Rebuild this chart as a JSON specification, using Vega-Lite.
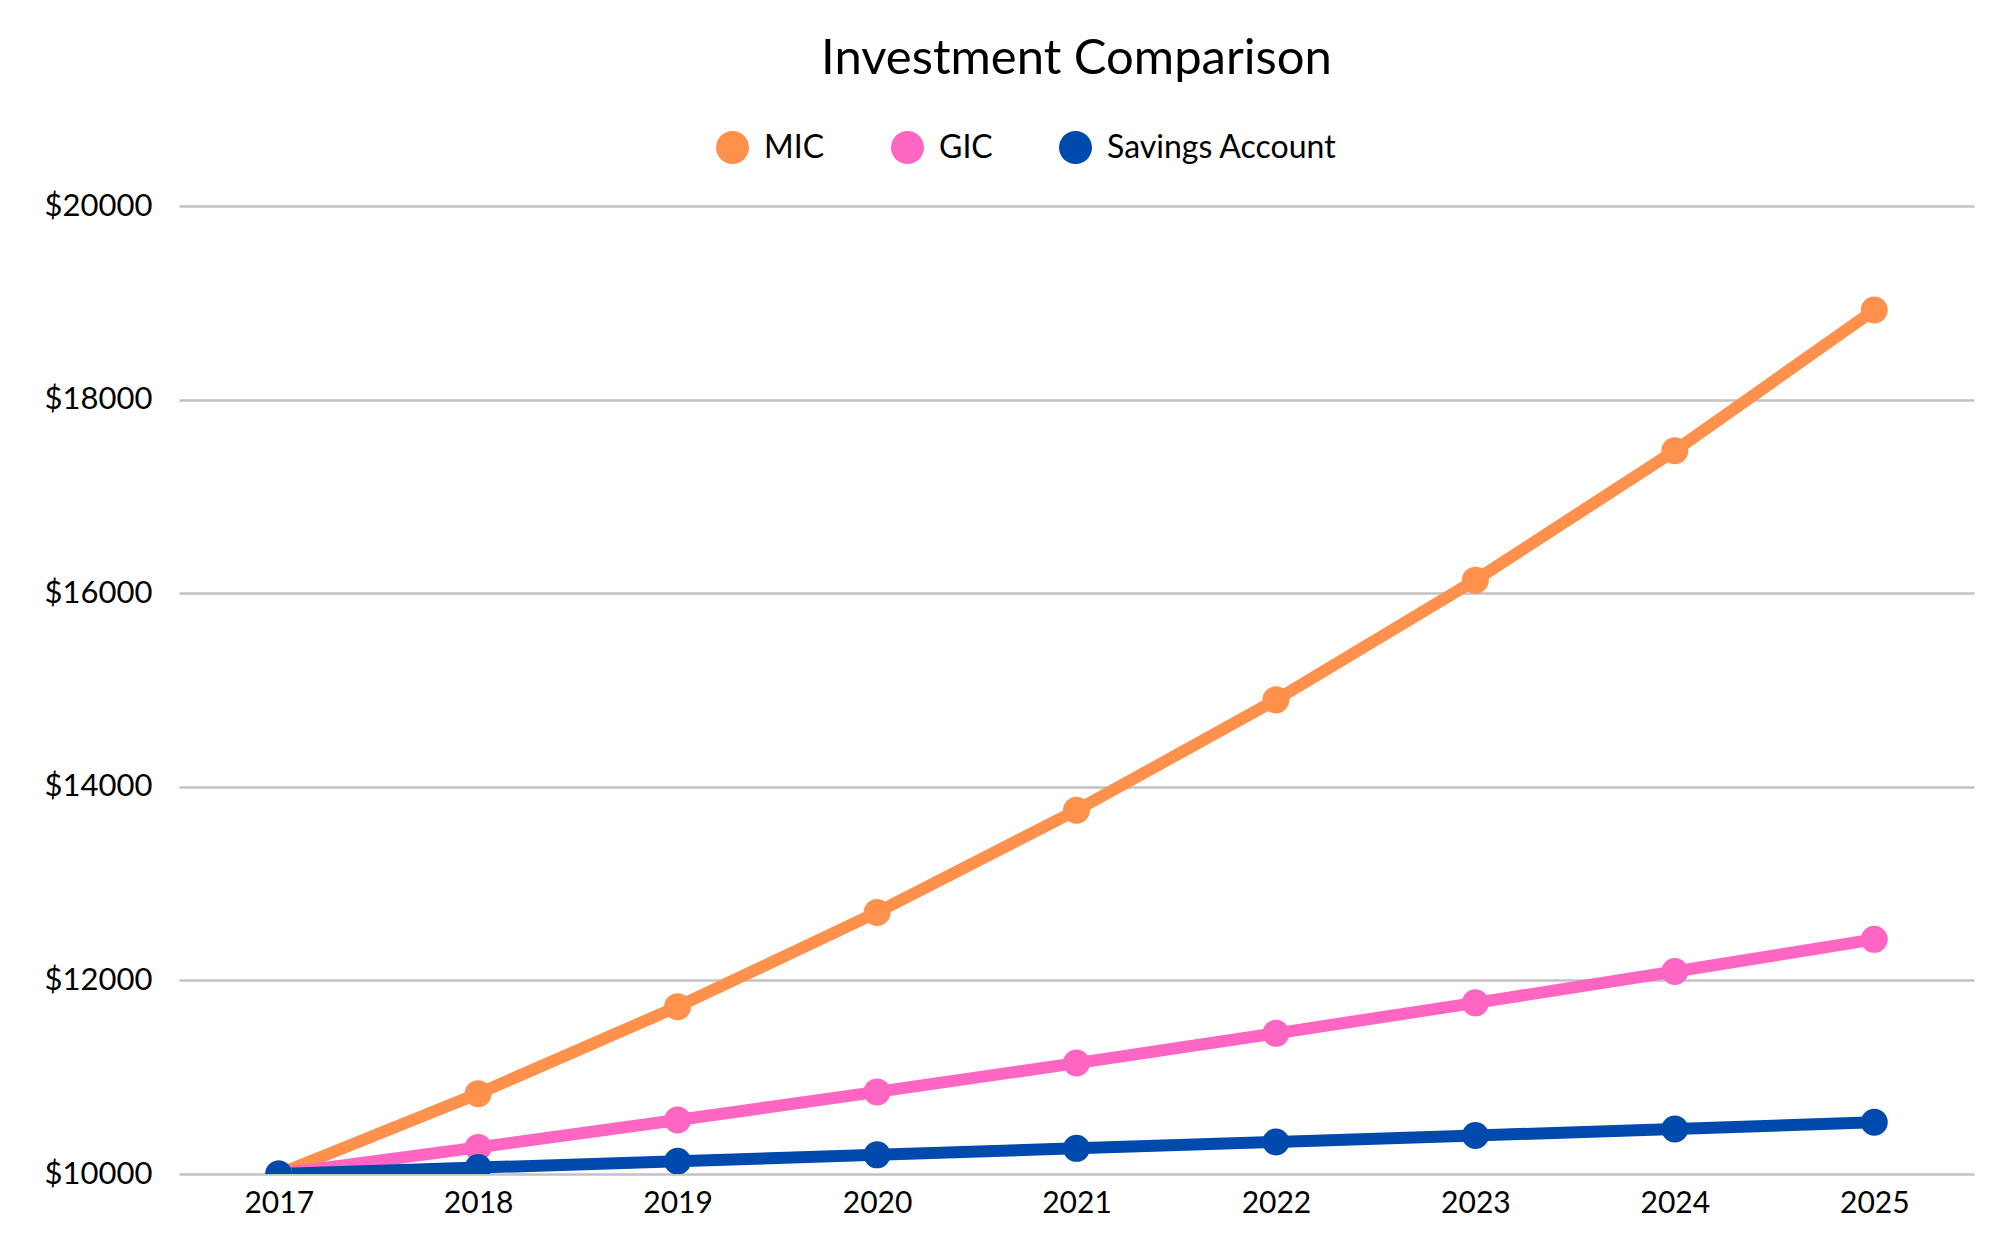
{
  "$schema": "https://vega.github.io/schema/vega-lite/v6.json",
  "width": 1795,
  "height": 968,
  "autosize": {"type": "none"},
  "padding": {"left": 179, "top": 206, "right": 32, "bottom": 73},
  "background": "white",
  "config": {
    "font": "Lato",
    "view": {"stroke": null},
    "axis": {"labelColor": "black", "labelFont": "Lato"}
  },
  "title": {
    "text": "Investment Comparison",
    "fontSize": 49,
    "fontWeight": "normal",
    "color": "black",
    "anchor": "middle",
    "frame": "group",
    "baseline": "alphabetic",
    "offset": 8
  },
  "data": {
    "values": [
      {"year": "2017", "series": "MIC", "value": 10000},
      {"year": "2018", "series": "MIC", "value": 10830},
      {"year": "2019", "series": "MIC", "value": 11729},
      {"year": "2020", "series": "MIC", "value": 12702},
      {"year": "2021", "series": "MIC", "value": 13757},
      {"year": "2022", "series": "MIC", "value": 14898},
      {"year": "2023", "series": "MIC", "value": 16135},
      {"year": "2024", "series": "MIC", "value": 17472},
      {"year": "2025", "series": "MIC", "value": 18925},
      {"year": "2017", "series": "GIC", "value": 10000},
      {"year": "2018", "series": "GIC", "value": 10275},
      {"year": "2019", "series": "GIC", "value": 10558},
      {"year": "2020", "series": "GIC", "value": 10848},
      {"year": "2021", "series": "GIC", "value": 11146},
      {"year": "2022", "series": "GIC", "value": 11453},
      {"year": "2023", "series": "GIC", "value": 11768},
      {"year": "2024", "series": "GIC", "value": 12092},
      {"year": "2025", "series": "GIC", "value": 12424},
      {"year": "2017", "series": "Savings Account", "value": 10000},
      {"year": "2018", "series": "Savings Account", "value": 10066},
      {"year": "2019", "series": "Savings Account", "value": 10132},
      {"year": "2020", "series": "Savings Account", "value": 10198},
      {"year": "2021", "series": "Savings Account", "value": 10265},
      {"year": "2022", "series": "Savings Account", "value": 10331},
      {"year": "2023", "series": "Savings Account", "value": 10398},
      {"year": "2024", "series": "Savings Account", "value": 10465},
      {"year": "2025", "series": "Savings Account", "value": 10535}
    ]
  },
  "encoding": {
    "x": {
      "field": "year",
      "type": "ordinal",
      "scale": {"type": "point", "padding": 0.5},
      "axis": {
        "title": null,
        "labelAngle": 0,
        "labelFontSize": 30,
        "labelPadding": 14,
        "ticks": false,
        "domain": false,
        "grid": false
      }
    },
    "y": {
      "field": "value",
      "type": "quantitative",
      "scale": {"domain": [10000, 20000], "nice": false, "zero": false},
      "axis": {
        "title": null,
        "values": [10000, 12000, 14000, 16000, 18000, 20000],
        "labelExpr": "'$' + datum.value",
        "labelFontSize": 31,
        "labelPadding": 27,
        "ticks": false,
        "domain": false,
        "grid": true,
        "gridColor": "#c2c2c2",
        "gridWidth": 2.6
      }
    },
    "color": {
      "field": "series",
      "type": "nominal",
      "scale": {
        "domain": ["MIC", "GIC", "Savings Account"],
        "range": ["#FF914D", "#FF66C4", "#004AAD"]
      },
      "legend": {
        "title": null,
        "orient": "none",
        "direction": "horizontal",
        "legendX": 537,
        "legendY": -75,
        "symbolType": "circle",
        "symbolSize": 1089,
        "symbolOpacity": 1,
        "symbolStrokeWidth": 0,
        "labelFontSize": 32,
        "labelColor": "black",
        "labelOffset": 15,
        "labelLimit": 500,
        "columnPadding": 66
      }
    }
  },
  "layer": [
    {
      "mark": {"type": "line", "strokeWidth": 12, "clip": true},
      "encoding": {}
    },
    {
      "mark": {"type": "point", "filled": true, "opacity": 1, "size": 729, "shape": "circle", "clip": true},
      "encoding": {}
    }
  ]
}
